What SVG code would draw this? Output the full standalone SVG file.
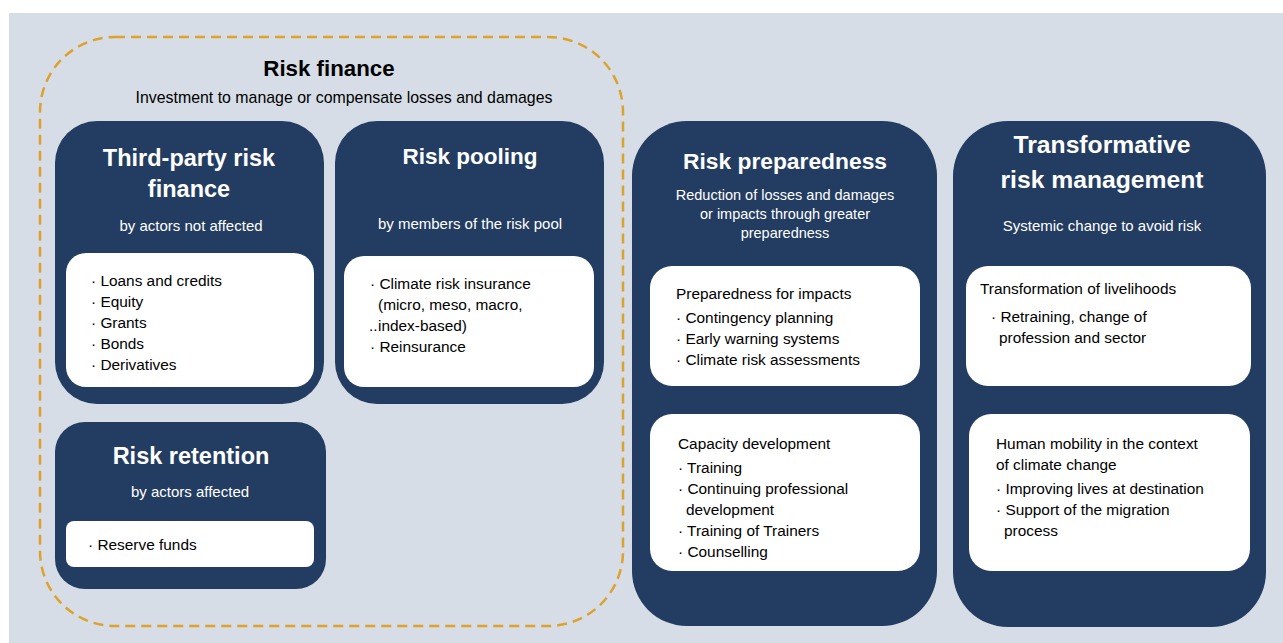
<svg xmlns="http://www.w3.org/2000/svg" width="1283" height="643" viewBox="0 0 1283 643">
<defs>
<style>
.bg{fill:#D6DDE6}
.dark{fill:#233C61}
.white{fill:#FFFFFF}
.dash{fill:none;stroke:#DDA22B;stroke-width:2.5;stroke-dasharray:10 6}
text{font-family:"Liberation Sans",Arial,sans-serif}
.t1{font-size:22.3px;font-weight:bold;fill:#000;text-anchor:middle}
.t2{font-size:22.5px;font-weight:bold;fill:#FFFFFF;text-anchor:middle}
.sub{font-size:15px;fill:#FFFFFF;text-anchor:middle}
.subd{font-size:15.9px;fill:#000;text-anchor:middle}
.b{font-size:15.4px;fill:#000}
</style>
</defs>
<rect x="0" y="0" width="1283" height="643" fill="#FFFFFF"/>
<rect class="bg" x="9" y="13" width="1274" height="630"/>

<g id="risk-finance">
<rect class="dash" x="40" y="37" width="583" height="589" rx="75" ry="75"/>
<text class="t1" x="329" y="76">Risk finance</text>
<text class="subd" x="344" y="103">Investment to manage or compensate losses and damages</text>
</g>

<g id="third-party">
<rect class="dark" x="55" y="121" width="269" height="283" rx="42"/>
<text class="t2" x="189" y="166" style="font-size:23.5px">Third-party risk</text>
<text class="t2" x="189" y="197" style="font-size:23.5px">finance</text>
<text class="sub" x="191" y="231">by actors not affected</text>
<rect class="white" x="66" y="253" width="248" height="134" rx="20"/>
<text class="b" x="91" y="286">· Loans and credits</text>
<text class="b" x="91" y="307">· Equity</text>
<text class="b" x="91" y="328">· Grants</text>
<text class="b" x="91" y="349">· Bonds</text>
<text class="b" x="91" y="370">· Derivatives</text>
</g>

<g id="risk-pooling">
<rect class="dark" x="335" y="121" width="269" height="283" rx="42"/>
<text class="t2" x="470" y="164">Risk pooling</text>
<text class="sub" x="470" y="229">by members of the risk pool</text>
<rect class="white" x="344" y="256" width="250" height="131" rx="20"/>
<text class="b" x="370" y="289">· Climate risk insurance</text>
<text class="b" x="378" y="310">(micro, meso, macro,</text>
<text class="b" x="369" y="331" fill="#A8B7CC">..</text>
<text class="b" x="378" y="331">index-based)</text>
<text class="b" x="370" y="352">· Reinsurance</text>
</g>

<g id="risk-retention">
<rect class="dark" x="55" y="422" width="271" height="167" rx="30"/>
<text class="t2" x="191" y="464" style="font-size:23.5px">Risk retention</text>
<text class="sub" x="190" y="497">by actors affected</text>
<rect class="white" x="66" y="521" width="248" height="46" rx="8"/>
<text class="b" x="88" y="550">· Reserve funds</text>
</g>

<g id="risk-preparedness">
<rect class="dark" x="632" y="121" width="305" height="505" rx="55"/>
<text class="t2" x="785" y="169" style="font-size:22.8px">Risk preparedness</text>
<text class="sub" x="785" y="200" style="font-size:14.5px">Reduction of losses and damages</text>
<text class="sub" x="785" y="219" style="font-size:14.5px">or impacts through greater</text>
<text class="sub" x="785" y="238" style="font-size:14.5px">preparedness</text>
<rect class="white" x="650" y="266" width="270" height="120" rx="22"/>
<text class="b" x="676" y="299">Preparedness for impacts</text>
<text class="b" x="676" y="323">· Contingency planning</text>
<text class="b" x="676" y="344">· Early warning systems</text>
<text class="b" x="676" y="365">· Climate risk assessments</text>
<rect class="white" x="650" y="414" width="270" height="157" rx="22"/>
<text class="b" x="678" y="449">Capacity development</text>
<text class="b" x="678" y="473">· Training</text>
<text class="b" x="678" y="494">· Continuing professional</text>
<text class="b" x="686" y="515">development</text>
<text class="b" x="678" y="536">· Training of Trainers</text>
<text class="b" x="678" y="557">· Counselling</text>
</g>

<g id="transformative">
<rect class="dark" x="953" y="121" width="313" height="506" rx="55"/>
<text class="t2" x="1102" y="153" style="font-size:24.7px">Transformative</text>
<text class="t2" x="1102" y="188" style="font-size:24.7px">risk management</text>
<text class="sub" x="1102" y="231">Systemic change to avoid risk</text>
<rect class="white" x="966" y="266" width="285" height="120" rx="22"/>
<text class="b" x="980" y="294">Transformation of livelihoods</text>
<text class="b" x="991" y="322">· Retraining, change of</text>
<text class="b" x="999" y="343">profession and sector</text>
<rect class="white" x="969" y="414" width="281" height="157" rx="22"/>
<text class="b" x="996" y="449">Human mobility in the context</text>
<text class="b" x="996" y="470">of climate change</text>
<text class="b" x="996" y="494">· Improving lives at destination</text>
<text class="b" x="996" y="515">· Support of the migration</text>
<text class="b" x="1004" y="536">process</text>
</g>

<g id="connectors"></g>
</svg>
